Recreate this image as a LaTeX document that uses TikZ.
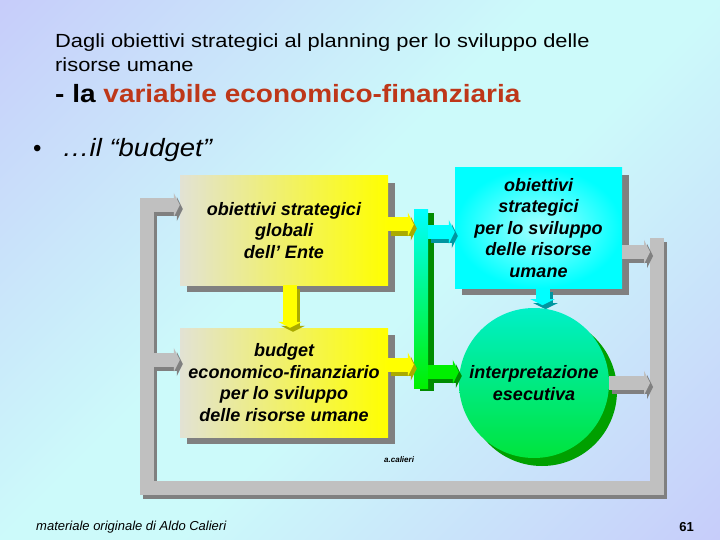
\documentclass[tikz,border=0pt]{standalone}
\usepackage{fontspec}
\setmainfont{Liberation Sans}
\usetikzlibrary{arrows.meta,shadows}

\definecolor{bglav}{RGB}{198,198,250}
\definecolor{bgcyan}{RGB}{204,250,250}
\definecolor{titlered}{RGB}{190,55,25}
\definecolor{barlight}{RGB}{192,192,192}
\definecolor{bardark}{RGB}{128,128,128}
\definecolor{boxbeige}{RGB}{226,226,212}
\definecolor{giallo}{RGB}{255,255,0}
\definecolor{ciano}{RGB}{0,255,255}
\definecolor{verde}{RGB}{0,240,0}
\definecolor{ydark}{RGB}{170,170,0}
\definecolor{cdark}{RGB}{0,150,160}
\definecolor{vdark}{RGB}{0,140,0}
\definecolor{cirtop}{RGB}{0,240,200}
\definecolor{cirbot}{RGB}{0,228,60}
\definecolor{cirdark}{RGB}{0,160,0}

\pgfdeclareverticalshading{sfondo}{100bp}{color(0bp)=(bglav); color(10bp)=(bglav); color(45bp)=(bgcyan); color(55bp)=(bgcyan); color(90bp)=(bglav); color(100bp)=(bglav)}

\tikzset{
 testo/.style={font=\bfseries\itshape\fontsize{18}{21.5}\selectfont,align=center,inner sep=0pt},
 ybox/.style={testo,rectangle,left color=boxbeige,right color=giallo,minimum width=208pt,minimum height=109pt,general shadow={fill=bardark,shadow xshift=7pt,shadow yshift=-7pt}},
 cbox/.style={testo,rectangle,inner color=ciano!35!white,outer color=ciano,minimum width=167pt,minimum height=120pt,general shadow={fill=bardark,shadow xshift=7pt,shadow yshift=-7pt}},
 cerchio/.style={testo,circle,top color=cirtop,bottom color=cirbot,minimum size=150pt,general shadow={fill=cirdark,shadow xshift=8pt,shadow yshift=-8pt}},
 barra/.style={rectangle,top color=ciano,bottom color=verde,minimum width=14pt,minimum height=178pt,inner sep=0pt,general shadow={fill=vdark,shadow xshift=6pt,shadow yshift=-3pt}},
 freccia/.style={line width=14pt,line join=miter,-{Triangle[length=6pt,width=24pt]}}
}
% freccia con ombra: colore, colore ombra, percorso
\newcommand{\frecciaombra}[3]{%
 \draw[freccia,draw=#2,transform canvas={shift={(3pt,-4pt)}}] #3;
 \draw[freccia,draw=#1] #3;}

\begin{document}
\begin{tikzpicture}[x=1pt,y=1pt]
 \useasboundingbox (0,0) rectangle (720,-540);
 \shade[shading=sfondo,shading angle=45] (0,0) rectangle (720,-540);

 % titolo
 \node[anchor=base west,inner sep=0pt,font=\fontsize{19}{22}\selectfont\addfontfeatures{FakeStretch=1.15}] (tit1) at (55,-48) {Dagli obiettivi strategici al planning per lo sviluppo delle};
 \node[anchor=base west,inner sep=0pt,font=\fontsize{19}{22}\selectfont\addfontfeatures{FakeStretch=1.15}] (tit2) at (55,-71.5) {risorse umane};
 \node[anchor=base west,inner sep=0pt,font=\bfseries\fontsize{25}{28}\selectfont\addfontfeatures{FakeStretch=1.12}] (tit3) at (55,-103) {- la \textcolor{titlered}{variabile economico-finanziaria}};
 \node[anchor=base west,inner sep=0pt,font=\fontsize{24}{28}\selectfont] (punto) at (33,-157) {•};
 \node[anchor=base west,inner sep=0pt,font=\itshape\fontsize{25}{28}\selectfont\addfontfeatures{FakeStretch=1.1}] (budg) at (62,-157) {…il “budget”};

 % blocchi
 \node[ybox] (obj) at (284,-230.5) {obiettivi strategici\\globali\\dell' Ente};
 \node[ybox] (bud) at (284,-382.5) {budget\\economico-finanziario\\per lo sviluppo\\delle risorse umane};
 \node[cbox] (sru) at (538.5,-228) {obiettivi\\strategici\\per lo sviluppo\\delle risorse\\umane};
 \node[barra] (vbar) at (421,-299) {};

 % cornice grigia
 \coordinate (rtop) at (657,-238);
 \coordinate (rbot) at (657,-488);
 \coordinate (lbot) at (147,-488);
 \coordinate (ltop) at (147,-205);
 \coordinate (lmid) at (154,-360);
 \coordinate (rin) at (650,-240);
 \frecciaombra{barlight}{bardark}{(rtop) -- (rbot) -- (lbot) -- (ltop) -- (ltop -| obj.west)}
 \frecciaombra{barlight}{bardark}{(lmid) -- (lmid -| bud.west)}

 % frecce
 \coordinate (cin) at ([yshift=-4pt]sru.west);
 \frecciaombra{giallo}{ydark}{([yshift=6pt]obj.east) -- ([yshift=6pt]obj.east -| vbar.west)}
 \frecciaombra{giallo}{ydark}{([yshift=18pt]bud.east) -- ([yshift=18pt]bud.east -| vbar.west)}
 \frecciaombra{giallo}{ydark}{([xshift=6pt]obj.south) -- ([xshift=6pt]bud.north)}
 \frecciaombra{ciano}{cdark}{(vbar.east |- cin) -- (cin)}
 \frecciaombra{barlight}{bardark}{([yshift=-24pt]sru.east) -- ([yshift=-24pt]sru.east -| rin)}
 \frecciaombra{ciano}{cdark}{([xshift=4pt]sru.south) -- ([xshift=4pt,yshift=-17pt]sru.south)}

 \node[cerchio] (interp) at (534,-383) {interpretazione\\esecutiva};
 \coordinate (gin) at ([yshift=11pt]interp.west);
 \frecciaombra{verde}{vdark}{(vbar.east |- gin) -- (gin)}
 \frecciaombra{barlight}{bardark}{(interp.east) -- (interp.east -| rin)}

 % firme
 \node[anchor=base west,inner sep=0pt,font=\bfseries\itshape\fontsize{8}{9}\selectfont] (firma) at (384,-462) {a.calieri};
 \node[anchor=base west,inner sep=0pt,font=\itshape\fontsize{13}{15}\selectfont] (piede) at (36,-530) {materiale originale di Aldo Calieri};
 \node[anchor=base east,inner sep=0pt,font=\bfseries\fontsize{13}{15}\selectfont] (pagina) at (694,-531) {61};
\end{tikzpicture}
\end{document}
